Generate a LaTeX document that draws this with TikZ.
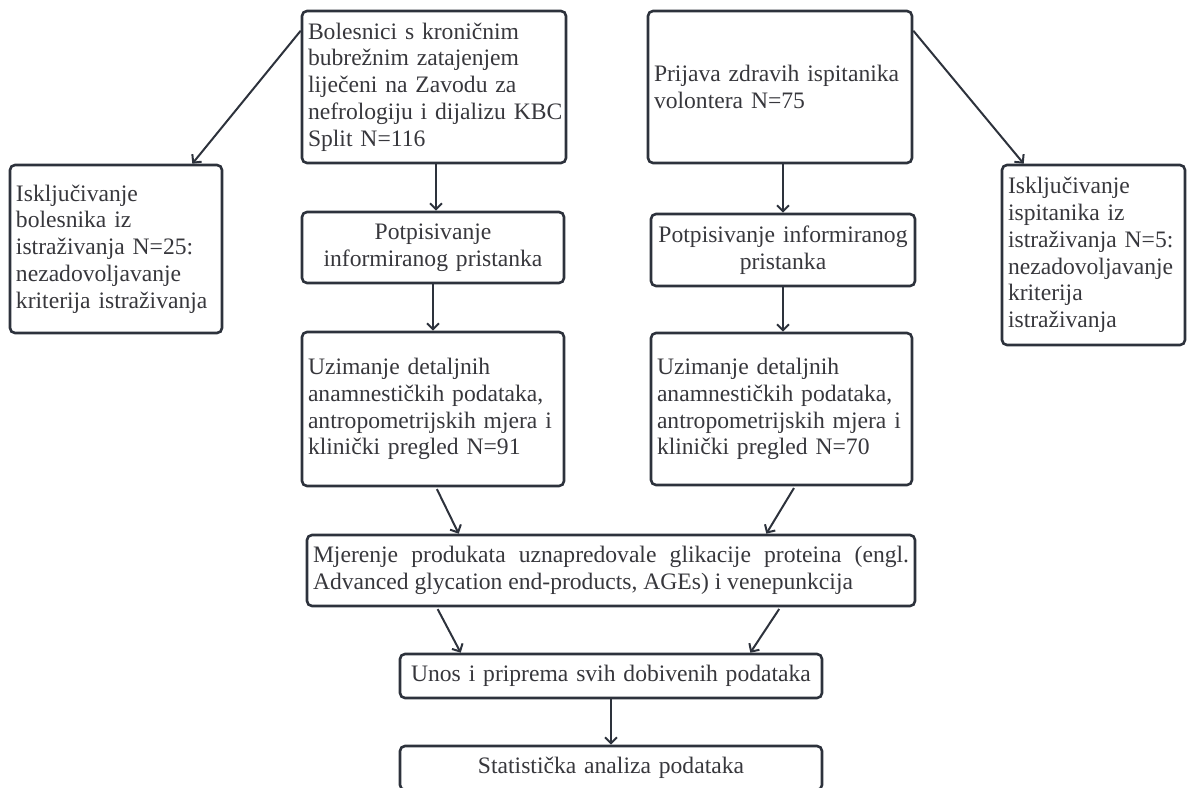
\documentclass[tikz,border=0pt]{standalone}
\usepackage{fontspec}
\setmainfont{Liberation Serif}
\usetikzlibrary{arrows.meta}
\definecolor{ln}{RGB}{45,50,60}
\definecolor{tx}{RGB}{55,55,60}
\tikzset{
  box/.style={draw=ln, line width=1.3pt, rounded corners=2.5pt, inner xsep=3pt, inner ysep=0pt,
    font=\fontsize{11.8}{13.4}\selectfont, text=tx},
  arr/.style={draw=ln, line width=1pt, -{Straight Barb[length=3pt,width=6pt]}},
}
\begin{document}
\begin{tikzpicture}[x=0.5pt,y=-0.5pt]
\useasboundingbox (0,0) rectangle (1187,787);
\node[box, text width=126pt, minimum height=76pt, align=left] (A) at (434,87)
  {\mbox{Bolesnici s kroničnim}\\ \mbox{bubrežnim zatajenjem}\\ \mbox{liječeni na Zavodu za}\\ \mbox{nefrologiju i dijalizu KBC}\\ \mbox{Split N=116}};
\node[box, text width=100pt, minimum height=84pt, align=left] (exL) at (116,249)
  {\mbox{Isključivanje}\\ \mbox{bolesnika iz}\\ \mbox{istraživanja N=25:}\\ \mbox{nezadovoljavanje}\\ \mbox{kriterija istraživanja}};
\node[box, text width=126pt, minimum height=76pt, align=left] (B) at (780,87)
  {\mbox{Prijava zdravih ispitanika}\\ \mbox{volontera N=75}};
\node[box, text width=85.5pt, minimum height=90pt, align=left] (exR) at (1093.5,255)
  {\mbox{Isključivanje}\\ \mbox{ispitanika iz}\\ \mbox{istraživanja N=5:}\\ \mbox{nezadovoljavanje}\\ \mbox{kriterija}\\ \mbox{istraživanja}};
\node[box, text width=125pt, minimum height=35.5pt, align=center] (potL) at (433,247.5)
  {\mbox{Potpisivanje}\\ \mbox{informiranog pristanka}};
\node[box, text width=126pt, minimum height=36pt, align=center] (potR) at (783,250)
  {\makebox[126pt]{Potpisivanje informiranog}\\ \mbox{pristanka}};
\node[box, text width=125pt, minimum height=77pt, align=left] (uzL) at (433,409)
  {\mbox{Uzimanje detaljnih}\\ \mbox{anamnestičkih podataka,}\\ \mbox{antropometrijskih mjera i}\\ \mbox{klinički pregled N=91}};
\node[box, text width=124.5pt, minimum height=76pt, align=left] (uzR) at (781.5,409)
  {\mbox{Uzimanje detaljnih}\\ \mbox{anamnestičkih podataka,}\\ \mbox{antropometrijskih mjera i}\\ \mbox{klinički pregled N=70}};
\node[box, text width=298pt, minimum height=35.5pt, align=justify] (mj) at (611,570.5)
  {Mjerenje produkata uznapredovale glikacije proteina (engl.\linebreak Advanced glycation end-products, AGEs) i venepunkcija};
\node[box, text width=205pt, minimum height=22pt, align=center] (un) at (611,676)
  {Unos i priprema svih dobivenih podataka};
\node[box, text width=205pt, minimum height=22pt, align=center] (st) at (611,768)
  {Statistička analiza podataka};

\draw[arr] ([yshift=-10.5pt]A.north west) -- ([xshift=-15.5pt]exL.north east);
\draw[arr] ([yshift=-10.5pt]B.north east) -- ([xshift=11.5pt]exR.north west);
\draw[arr] ([xshift=1pt]A.south) -- ([xshift=1.5pt]potL.north);
\draw[arr] (potL.south) -- (uzL.north);
\draw[arr] (B.south -| potR.north) -- (potR.north);
\draw[arr] (potR.south) -- (potR.south |- uzR.north);
\draw[arr, shorten <=1pt] ([xshift=1.5pt]uzL.south) -- ([xshift=76.5pt]mj.north west);
\draw[arr, shorten <=1pt] ([xshift=6.75pt]uzR.south) -- ([xshift=-75pt]mj.north east);
\draw[arr, shorten <=1pt] ([xshift=65.5pt]mj.south west) -- ([xshift=31pt]un.north west);
\draw[arr, shorten <=1pt] ([xshift=-68pt]mj.south east) -- ([xshift=-36.5pt]un.north east);
\draw[arr] (un) -- (st);
\end{tikzpicture}
\end{document}
